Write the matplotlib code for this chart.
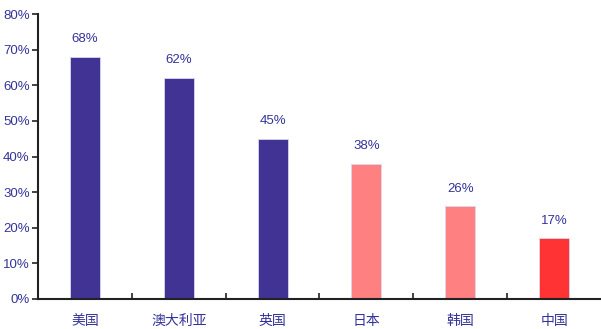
import matplotlib
matplotlib.use("Agg")
import matplotlib.pyplot as plt
from matplotlib.ticker import FixedLocator, PercentFormatter

countries = ["美国", "澳大利亚", "英国", "日本", "韩国", "中国"]
shares = [68, 62, 45, 38, 26, 17]
colors = ["#403393", "#403393", "#403393", "#FF8080", "#FF8080", "#FF3333"]

navy = "#333399"
num_font = ["Liberation Sans", "DejaVu Sans"]
cjk_font = ["Noto Sans CJK SC", "DejaVu Sans"]

fig = plt.figure(figsize=(6.01, 3.29), dpi=100, facecolor="white")
ax = fig.add_axes([0.0632, 0.0912, 0.9368, 0.8662])

x = range(len(countries))
ax.bar(x, shares, width=0.32, color=colors, edgecolor="#D8D8F0", linewidth=0.6, zorder=2)

for xi, v in zip(x, shares):
    ax.text(xi, v + 3.3, f"{v}%", ha="center", va="bottom", color=navy,
            fontsize=9.5, family=num_font)

ax.set_xlim(-0.5, len(countries) - 0.5)
ax.set_ylim(0, 80)
ax.set_yticks(range(0, 81, 10))
ax.yaxis.set_major_formatter(PercentFormatter(decimals=0))

# category labels in the middle, small tick marks between the bars
ax.set_xticks(list(x))
ax.set_xticklabels(countries, family=cjk_font, fontsize=10, color=navy)
ax.xaxis.set_minor_locator(FixedLocator([i + 0.5 for i in range(len(countries) - 1)]))
ax.tick_params(axis="x", which="major", length=0, pad=11)
ax.tick_params(axis="x", which="minor", direction="in", length=4, width=1.2, color="#222222")
ax.tick_params(axis="y", direction="out", length=4, width=1.2, color="#222222",
               labelcolor=navy, labelsize=9.5, pad=2)
for lbl in ax.get_yticklabels():
    lbl.set_family(num_font)

for side in ["top", "right"]:
    ax.spines[side].set_visible(False)
for side in ["left", "bottom"]:
    ax.spines[side].set_color("#222222")
    ax.spines[side].set_linewidth(1.5)

fig.savefig("out.png", dpi=100, facecolor="white")
